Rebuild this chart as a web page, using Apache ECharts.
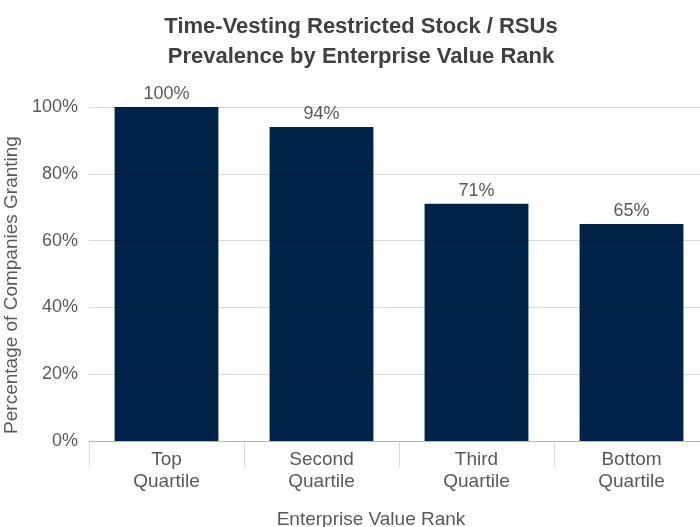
<!DOCTYPE html>
<html>
<head>
<meta charset="utf-8">
<script src="https://cdn.jsdelivr.net/npm/echarts@6/dist/echarts.min.js"></script>
<style>
  html, body { margin: 0; padding: 0; background: #fff; }
  #main { width: 700px; height: 527px; }
</style>
</head>
<body>
<div id="main"></div>
<script>
// 数据
var categories = ["Top\nQuartile", "Second\nQuartile", "Third\nQuartile", "Bottom\nQuartile"];
var values = [100, 94, 71, 65];
var yTicks = [0, 20, 40, 60, 80, 100];

var font = "Liberation Sans";
var myChart = echarts.init(document.getElementById("main"));

var option = {
  animation: false,
  textStyle: {fontFamily: font},
  title: {
    text: "Time-Vesting Restricted Stock / RSUs\nPrevalence by Enterprise Value Rank",
    left: 356,
    textAlign: "center",
    top: 7,
    textStyle: {color: "#404040", fontSize: 22, fontWeight: "bold", lineHeight: 30, fontFamily: font}
  },
  // 绘图区延伸到画布右侧之外
  grid: {left: 89, top: 107, bottom: 86, width: 620, containLabel: false, outerBoundsMode: "none"},
  xAxis: {
    type: "category",
    data: categories,
    name: "Enterprise Value Rank",
    nameLocation: "middle",
    nameGap: 69,
    nameTextStyle: {color: "#595959", fontSize: 19, padding: [0, 56, 0, 0]},
    axisLine: {lineStyle: {color: "#d9d9d9", width: 1}},
    axisTick: {show: true, length: 26, lineStyle: {color: "#d9d9d9"}},
    axisLabel: {color: "#595959", fontSize: 19, lineHeight: 22, margin: 8, interval: 0}
  },
  yAxis: {
    type: "value",
    min: yTicks[0],
    max: yTicks[yTicks.length - 1],
    interval: 20,
    z: 3,
    name: "Percentage of Companies Granting",
    nameLocation: "middle",
    nameGap: 63,
    nameTextStyle: {color: "#595959", fontSize: 19, padding: [0, 22, 0, 0]},
    axisLine: {show: false},
    axisTick: {show: false},
    splitLine: {lineStyle: {color: "rgba(0,0,0,0.15)"}},
    axisLabel: {color: "#595959", fontSize: 18, margin: 11, formatter: function (v) { return v + "%"; }}
  },
  series: [{
    type: "bar",
    data: values,
    barCategoryGap: "33%",
    itemStyle: {color: "#00234a"},
    label: {
      show: true,
      position: "top",
      distance: 4,
      color: "#595959",
      fontSize: 18,
      formatter: function (p) { return p.value + "%"; }
    }
  }]
};
myChart.setOption(option, true);
</script>
</body>
</html>
